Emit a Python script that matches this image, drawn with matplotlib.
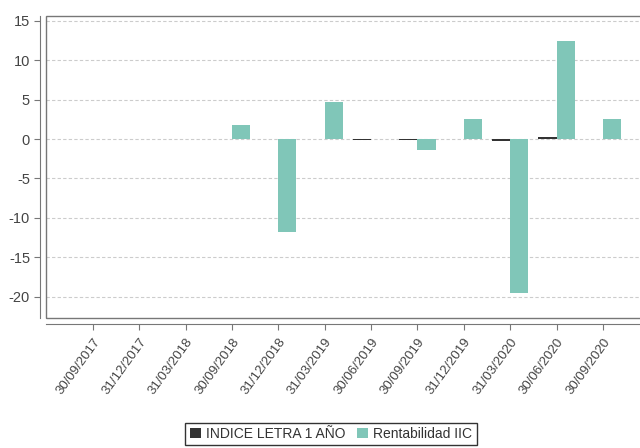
import numpy as np
import matplotlib.pyplot as plt
from matplotlib.patches import Rectangle

# quarterly returns, in %
fechas = ['30/09/2017', '31/12/2017', '31/03/2018', '30/09/2018',
          '31/12/2018', '31/03/2019', '30/06/2019', '30/09/2019',
          '31/12/2019', '31/03/2020', '30/06/2020', '30/09/2020']
indice_letra = [np.nan, np.nan, np.nan, -0.05, -0.05, np.nan,
                -0.08, -0.08, -0.05, -0.3, 0.3, -0.05]
rentabilidad = [np.nan, np.nan, np.nan, 1.8, -11.75, 4.65,
                0.0, -1.4, 2.55, -19.5, 12.4, 2.55]

plt.rcParams['font.family'] = ['Liberation Sans', 'DejaVu Sans']
plt.rcParams['axes.unicode_minus'] = False

fig = plt.figure(figsize=(6.4, 4.48), dpi=100)
ax = fig.add_axes([46 / 640, 1 - 318 / 448, 1 - 46 / 640, (318 - 16) / 448])

x = np.arange(len(fechas))
w = 0.39
ax.bar(x - w / 2, indice_letra, w, color='#333333', label='INDICE LETRA 1 AÑO')
ax.bar(x + w / 2, rentabilidad, w, color='#80C6B8', label='Rentabilidad IIC')

ax.set_xlim(-1.01, 11.8)
ax.set_ylim(-22.7, 15.6)
ax.set_yticks([15, 10, 5, 0, -5, -10, -15, -20])
ax.set_xticks(x)
ax.set_xticklabels(fechas)
ax.yaxis.grid(True, linestyle=(0, (3, 2)), color='#cccccc', linewidth=0.8)
ax.set_axisbelow(True)

# axis lines sit a little outside the frame
for side in ['top', 'right']:
    ax.spines[side].set_visible(False)
for side in ['left', 'bottom']:
    ax.spines[side].set_position(('outward', 4))
    ax.spines[side].set_color('#777777')
ax.add_patch(Rectangle((0, 0), 1.2, 1, transform=ax.transAxes, fill=False,
                       edgecolor='#777777', linewidth=1.0, clip_on=False))
ax.tick_params(axis='both', colors='#777777', labelcolor='#444444',
               length=4, width=0.8)
ax.tick_params(axis='y', labelsize=10.5)
ax.tick_params(axis='x', labelsize=9.5, pad=5)
plt.setp(ax.get_xticklabels(), rotation=54, ha='right', rotation_mode='anchor')

leg = ax.legend(loc='lower center', bbox_to_anchor=((331 - 46) / 594, -0.42),
                ncol=2, frameon=True, fancybox=False, fontsize=10,
                handlelength=0.8, handleheight=0.8, handletextpad=0.4,
                columnspacing=0.8, borderpad=0.3, borderaxespad=0)
leg.get_frame().set_edgecolor('black')
leg.get_frame().set_linewidth(1.0)
for t in leg.get_texts():
    t.set_color('#333333')

fig.savefig('out.png', dpi=100)
